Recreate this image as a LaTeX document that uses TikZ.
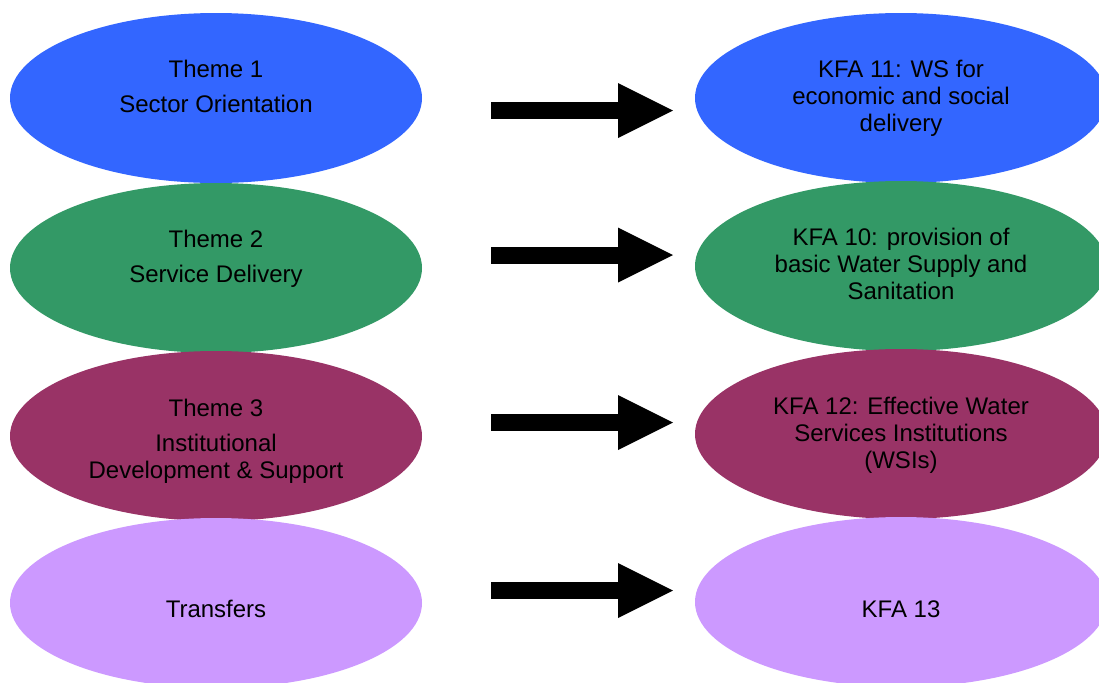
\documentclass[tikz,border=0pt]{standalone}
\usepackage{fontspec}
\setmainfont{Liberation Sans}
\usetikzlibrary{shapes.geometric,arrows.meta}

\definecolor{themeblue}{HTML}{3366FF}
\definecolor{themegreen}{HTML}{339966}
\definecolor{themeplum}{HTML}{993366}
\definecolor{themelilac}{HTML}{CC99FF}

\tikzset{
  oval/.style={ellipse,minimum width=206pt,minimum height=85pt,inner sep=0pt},
  ovaltext/.style={align=center,anchor=base,inner sep=0pt,font=\fontsize{12}{13.5}\selectfont},
  bigarrow/.style={line width=8.5pt,-{Triangle[length=27.5pt,width=27.5pt,line width=0pt]}}
}

\begin{document}
\begin{tikzpicture}[x=0.5pt,y=-0.5pt]
  %ramme
  	\useasboundingbox (0,0) rectangle (1099,682);

  %tema 1
  	\node[oval,fill=themeblue] (theme1) at (216,98) {};
  	\node[oval,fill=themeblue] (kfa11) at (901,98) {};
  	\node[ovaltext] (theme1txt) at (216,112) {Theme 1\\[4pt]Sector Orientation};
  	\node[ovaltext] (kfa11txt) at (901,131) {KFA 11: WS for\\economic and social\\delivery};

  %tema 2
  	\node[oval,fill=themegreen] (theme2) at (216,268) {};
  	\node[oval,fill=themegreen] (kfa10) at (901,266) {};
  	\node[ovaltext] (theme2txt) at (216,282) {Theme 2\\[4pt]Service Delivery};
  	\node[ovaltext] (kfa10txt) at (901,299) {KFA 10: provision of\\basic Water Supply and\\Sanitation};

  %tema 3
  	\node[oval,fill=themeplum] (theme3) at (216,436) {};
  	\node[oval,fill=themeplum] (kfa12) at (901,434) {};
  	\node[ovaltext] (theme3txt) at (216,478) {Theme 3\\[4pt]Institutional\\Development \& Support};
  	\node[ovaltext] (kfa12txt) at (901,468) {KFA 12: Effective Water\\Services Institutions\\(WSIs)};

  %overfoersler
  	\node[oval,fill=themelilac] (transfers) at (216,603) {};
  	\node[oval,fill=themelilac] (kfa13) at (901,602) {};
  	\node[ovaltext] (transferstxt) at (216,617.5) {Transfers};
  	\node[ovaltext] (kfa13txt) at (901,617) {KFA 13};

  %pile
  	\coordinate (a1) at (491,110.5);	\coordinate (b1) at (673,110.5);
  	\coordinate (a2) at (491,255);		\coordinate (b2) at (673,255);
  	\coordinate (a3) at (491,422.5);	\coordinate (b3) at (673,422.5);
  	\coordinate (a4) at (491,590.5);	\coordinate (b4) at (673,590.5);
  	\draw[bigarrow] (a1) -- (b1);
  	\draw[bigarrow] (a2) -- (b2);
  	\draw[bigarrow] (a3) -- (b3);
  	\draw[bigarrow] (a4) -- (b4);
\end{tikzpicture}
\end{document}
